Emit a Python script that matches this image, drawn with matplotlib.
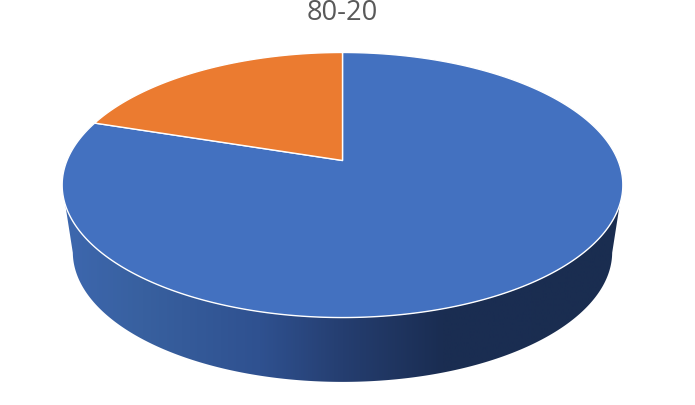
import numpy as np
import matplotlib
matplotlib.use("Agg")
import matplotlib.pyplot as plt
from matplotlib.patches import Polygon
from matplotlib.colors import LinearSegmentedColormap

# Data
title = "80-20"
categories = ["80", "20"]
values = [80, 20]
colors = ["#4371C0", "#EB7B30"]

# Projection of the pie disc (perspective), in pixels
CX, APEX_Y = 342.5, 161.5
RADIUS, DEPTH_A, PERSP = 275.5, 128.0, 0.185
BOTTOM_SCALE_X, BOTTOM_SCALE_Y, THICK = 0.962, 0.98, 67.0
ELL_CY = 185.5


def project(theta):
    """theta in radians, clockwise from 12 o'clock."""
    u, v = np.sin(theta), np.cos(theta)
    w = 1 + PERSP * v
    return CX + RADIUS * u / w, APEX_Y - DEPTH_A * v / w


def project_bottom(theta):
    x, y = project(theta)
    return CX + (x - CX) * BOTTOM_SCALE_X, ELL_CY + (y - ELL_CY) * BOTTOM_SCALE_Y + THICK


fig = plt.figure(figsize=(6.95, 4.06), dpi=100)
ax = fig.add_axes([0, 0, 1, 1])
ax.set_xlim(0, 695)
ax.set_ylim(406, 0)
ax.axis("off")

# Side wall: outline joins the front part of the top and bottom rims
top_off = np.radians(19.0)
bot_off = np.radians(11.0)
front_top = np.linspace(np.pi / 2 + top_off, 3 * np.pi / 2 - top_off, 721)
front_bot = np.linspace(np.pi / 2 + bot_off, 3 * np.pi / 2 - bot_off, 721)
fx, fy = project(front_top)
gx, gy = project_bottom(front_bot)
wall_xy = np.column_stack([np.r_[fx, gx[::-1]], np.r_[fy, gy[::-1]]])
wall = Polygon(wall_xy, closed=True, fc="none", ec="none")
ax.add_patch(wall)
cmap = LinearSegmentedColormap.from_list(
    "wall",
    [(0.0, "#3D67AE"), (0.14, "#38609F"), (0.35, "#2F5190"), (0.50, "#253E70"),
     (0.68, "#1A2D52"), (1.0, "#1A2D50")],
)
grad = np.linspace(0, 1, 512)[None, :]
im = ax.imshow(grad, extent=[fx.min(), fx.max(), 406, 0], cmap=cmap, aspect="auto",
               interpolation="bilinear", zorder=1)
im.set_clip_path(wall)
ax.set_xlim(0, 695)
ax.set_ylim(406, 0)

# Top face: slices from the values
fractions = np.array(values, dtype=float) / sum(values)
start = 0.0
for val, frac, col in zip(values, fractions, colors):
    a = np.linspace(start, start + frac * 2 * np.pi, 600)
    x, y = project(a)
    pts = np.column_stack([np.r_[CX, x], np.r_[APEX_Y, y]])
    ax.add_patch(Polygon(pts, closed=True, fc=col, ec="white", lw=1.0,
                         joinstyle="round", zorder=3))
    start += frac * 2 * np.pi

ax.text(342.5, 20, title, ha="center", va="baseline", fontsize=19.6,
        family="Open Sans", color="#595959")

fig.savefig("out.png", dpi=100)
